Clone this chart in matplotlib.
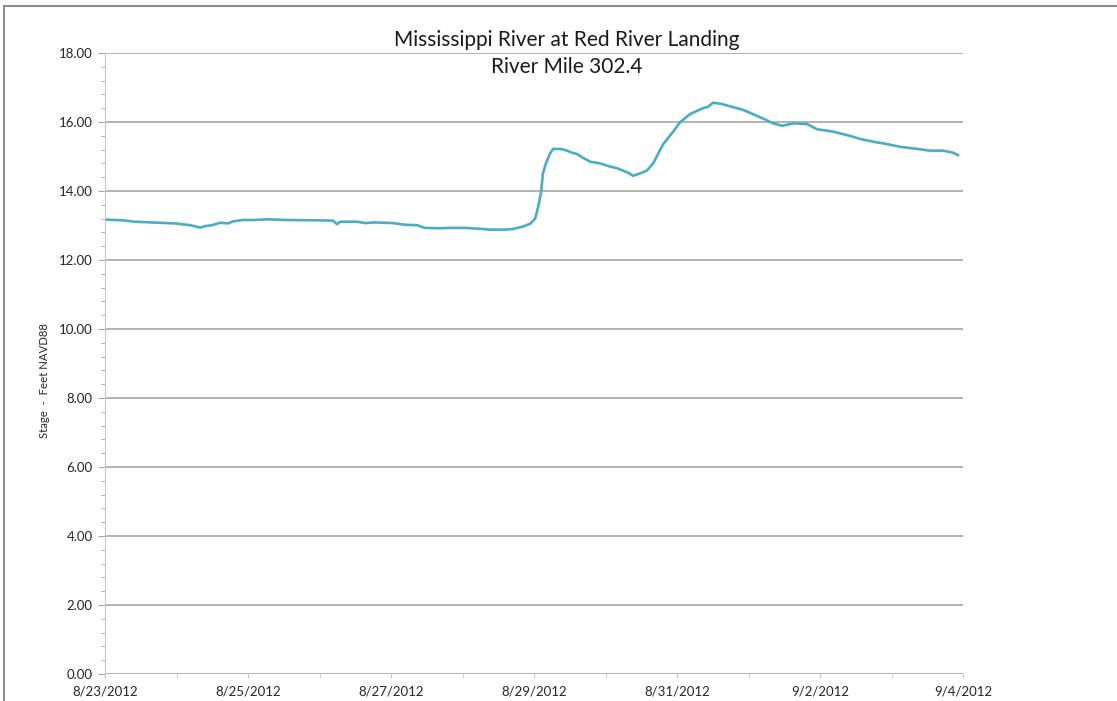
import matplotlib.pyplot as plt
import matplotlib.dates as mdates
from matplotlib.patches import Rectangle
from matplotlib.ticker import MultipleLocator, FormatStrFormatter
import pandas as pd

plt.rcParams['font.family'] = ['Lato', 'DejaVu Sans']

# hours after 8/23/2012 00:00 and stage (ft NAVD88)
hours = [0, 6, 10, 18, 23.5, 28.5, 32, 33.5, 36, 38.6, 41.3, 43, 46.3, 50.4, 54.4,
         60.4, 71.2, 76.5, 77.9, 79, 84.6, 87.3, 90.6, 96.7, 100.7, 104.7, 107.4,
         112.5, 115.8, 120.9, 124.9, 129.2, 134.3, 137, 140.3, 142.7, 144.4, 145.4,
         146.4, 147, 148, 149.4, 150.4, 152.7, 154.4, 156.8, 158.5, 160.1, 162.8,
         166.2, 169.5, 171.9, 175.6, 177.3, 179.6, 181.9, 184, 185.5, 187.3, 190.7,
         193, 196.4, 200.7, 202.4, 204.1, 207.1, 210.8, 214.2, 217.5, 220.9, 224.3,
         227.3, 231, 235.7, 239, 244.4, 249.1, 253.5, 257.8, 262.5, 266.9, 272.6,
         276.9, 281.3, 284.7, 286.3]
stage = [13.17, 13.15, 13.11, 13.08, 13.06, 13.01, 12.94, 12.98, 13.01, 13.08,
         13.06, 13.12, 13.16, 13.16, 13.18, 13.16, 13.15, 13.14, 13.04, 13.11,
         13.11, 13.07, 13.09, 13.07, 13.02, 13.01, 12.93, 12.92, 12.93, 12.93,
         12.91, 12.88, 12.88, 12.90, 12.97, 13.05, 13.20, 13.54, 13.98, 14.51,
         14.80, 15.09, 15.22, 15.22, 15.19, 15.11, 15.07, 14.98, 14.85, 14.80,
         14.71, 14.66, 14.53, 14.44, 14.51, 14.59, 14.80, 15.05, 15.35, 15.72,
         15.99, 16.23, 16.40, 16.44, 16.56, 16.52, 16.43, 16.35, 16.23, 16.10,
         15.96, 15.89, 15.96, 15.94, 15.79, 15.72, 15.62, 15.51, 15.43, 15.36,
         15.28, 15.22, 15.17, 15.17, 15.11, 15.04]

start = pd.Timestamp('2012-08-23')
times = [start + pd.Timedelta(hours=h) for h in hours]

fig = plt.figure(figsize=(11.17, 7.01), dpi=100)
ax = fig.add_axes([105 / 1117, 27 / 701, 858 / 1117, 621 / 701])

ax.plot(times, stage, color='#4bacc6', linewidth=1.9)

ax.set_ylim(0, 18)
ax.set_xlim(start, pd.Timestamp('2012-09-04'))
ax.yaxis.set_major_locator(MultipleLocator(2))
ax.yaxis.set_minor_locator(MultipleLocator(0.4))
ax.yaxis.set_major_formatter(FormatStrFormatter('%.2f'))
ax.xaxis.set_major_locator(mdates.DayLocator(interval=2))
ax.xaxis.set_minor_locator(mdates.DayLocator())
ax.xaxis.set_major_formatter(
    plt.FuncFormatter(lambda v, p: '{d.month}/{d.day}/{d.year}'.format(d=mdates.num2date(v))))

ax.grid(axis='y', which='major', color='#a6a6a6', linewidth=1.2)
ax.set_axisbelow(True)
for s in ['top', 'right', 'bottom']:
    ax.spines[s].set_visible(False)
ax.spines['left'].set_color('#c8c8c8')
ax.tick_params(axis='y', which='major', length=5, color='#a6a6a6', labelsize=9.5,
               labelcolor='#262626', pad=4)
ax.tick_params(axis='y', which='minor', length=3, color='#a6a6a6')
ax.tick_params(axis='x', which='major', length=3, color='#c0c0c0', labelsize=9.5,
               labelcolor='#262626', pad=5)
ax.tick_params(axis='x', which='minor', length=3, color='#c0c0c0')

fig.text(567 / 1117, 1 - 40 / 701, 'Mississippi River at Red River Landing',
         ha='center', va='center', fontsize=15, color='#1a1a1a')
fig.text(567 / 1117, 1 - 67 / 701, 'River Mile 302.4',
         ha='center', va='center', fontsize=15, color='#1a1a1a')
fig.text(45 / 1117, 1 - 381 / 701, 'Stage  -  Feet NAVD88', rotation=90,
         ha='center', va='center', fontsize=8.2, color='#262626')

fig.patches.append(Rectangle((4 / 1117, -0.1), 1.2, 1 - 6 / 701 + 0.1,
                             transform=fig.transFigure, fill=False,
                             edgecolor='#8c8c8c', linewidth=1.5))

fig.savefig('out.png', dpi=100)
